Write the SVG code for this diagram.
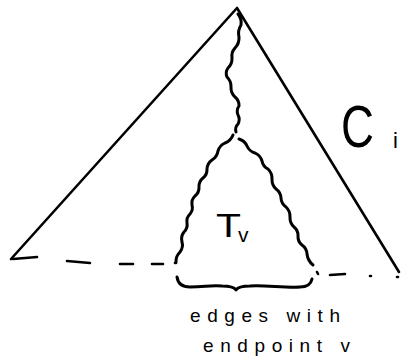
<svg xmlns="http://www.w3.org/2000/svg" width="401" height="363" viewBox="0 0 401 363">
<style>
.ln{fill:none;stroke:#000;stroke-width:2.6;stroke-linecap:round;stroke-linejoin:round}
.wv{fill:none;stroke:#000;stroke-width:3;stroke-linecap:round;stroke-linejoin:round}
.tx{font-family:"Liberation Sans",Arial,sans-serif;fill:#000}
</style>
<rect width="401" height="363" fill="#fff"/>
<g id="outer-tree">
<path class="ln" d="M11,259 L237,8 L399,272"/>
</g>
<g id="baseline">
<path class="ln" d="M13,259 L37,257 M67,261 L90,263 M120,264 L133,264 M152,264 L163,264 M175,263 L176,263"/>
<path class="ln" d="M317,272 L318,274 M330,275 L345,274 M370,276 L371,276 M397,277 L398,277"/>
</g>
<g id="path-to-v">
<path class="wv" d="M238,14 Q241.9,18.8 241,25 Q237.5,30.6 239,37 Q239.4,43.4 235,48 Q231.1,52.3 232,58 Q232.3,63.9 228,68 Q225,72.2 227,77 Q231.3,81.1 231,87 Q230.7,92.9 235,97 Q239.3,100.5 239,106 Q236,110.2 238,115 Q240.5,119.5 238,124 Q234.6,127.4 236,132"/>
</g>
<g id="subtree-Tv">
<path class="wv" d="M233,135 Q230.8,140.8 225,143 Q219.6,145.4 218,151 Q217.1,156.9 212,160 Q207.3,163.3 207,169 Q207.3,174.5 203,178 Q198.7,181.5 199,187 Q199.3,192.5 195,196 Q191.1,199.7 192,205 Q193.4,210 190,214 Q186.1,217.7 187,223 Q187.9,228.3 184,232 Q180.5,236.5 182,242 Q183.5,247.5 180,252 Q175.7,256.1 176,262"/>
<path class="wv" d="M239,139 Q244.6,140.6 247,146 Q249.4,151.4 255,153 Q260.4,155.4 262,161 Q263,166.5 268,169 Q272.3,173.1 272,179 Q271.7,184.9 276,189 Q280.7,192.3 281,198 Q281.3,203.7 286,207 Q290.3,211.1 290,217 Q289.7,222.9 294,227 Q298.3,230.5 298,236 Q297.7,241.5 302,245 Q306.7,248.3 307,254 Q307.8,260.7 313,265"/>
<text class="tx" x="216" y="237" font-size="34" textLength="25" lengthAdjust="spacingAndGlyphs">T</text>
<text class="tx" x="238" y="242" font-size="21">v</text>
</g>
<g id="brace">
<path class="wv" d="M177,277 C178,284 182,287 190,287 C205,287 210,285 222,286 C230,286 234,287 236,290 C238,287 242,286 250,286 C265,285 285,288 300,287 C308,287 311,284 312,279"/>
</g>
<g id="labels">
<text class="tx" x="341" y="147" font-size="59" textLength="33" lengthAdjust="spacingAndGlyphs">C</text>
<text class="tx" x="393" y="148" font-size="22">i</text>
<text class="tx" x="190" y="322" font-size="19" textLength="150" lengthAdjust="spacing">edges with</text>
<text class="tx" x="203" y="352" font-size="19" textLength="147" lengthAdjust="spacing">endpoint v</text>
</g>
</svg>
